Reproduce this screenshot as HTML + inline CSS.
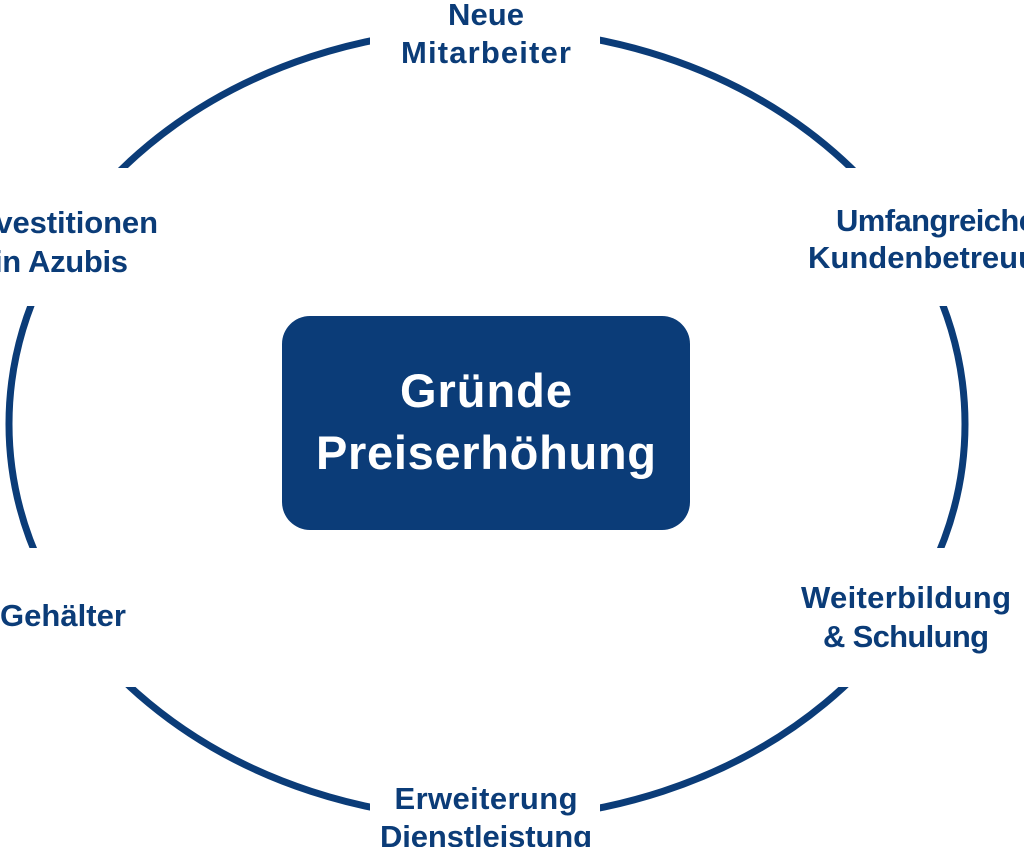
<!DOCTYPE html>
<html><head><meta charset="utf-8"><style>
html,body{margin:0;padding:0;background:#fff;width:1024px;height:847px;overflow:hidden}
svg text{font-family:"Liberation Sans",sans-serif;font-weight:bold;fill:#0b3c78}
</style></head><body>
<svg width="1024" height="847" viewBox="0 0 1024 847">
<ellipse cx="487" cy="424" rx="478" ry="395" fill="none" stroke="#0b3c78" stroke-width="7"/>
<g fill="#fff">
<rect x="370" y="0" width="230" height="75"/>
<rect x="370" y="770" width="230" height="77"/>
<rect x="0" y="168" width="200" height="138"/>
<rect x="0" y="548" width="200" height="139"/>
<rect x="790" y="168" width="234" height="138"/>
<rect x="790" y="548" width="234" height="139"/>
</g>
<rect x="282" y="316" width="408" height="214" rx="28" fill="#0b3c78"/>
<text x="486" y="407" text-anchor="middle" font-size="47" textLength="172" style="fill:#fff">Gründe</text>
<text x="486" y="469" text-anchor="middle" font-size="47" textLength="340" style="fill:#fff">Preiserhöhung</text>
<g font-size="31">
<text x="486" y="25" text-anchor="middle" textLength="76">Neue</text>
<text x="486" y="63" text-anchor="middle" textLength="170">Mitarbeiter</text>
<text x="158" y="233" text-anchor="end" textLength="190">Investitionen</text>
<text x="128" y="272" text-anchor="end" textLength="134">in Azubis</text>
<text x="126" y="626" text-anchor="end" textLength="126">Gehälter</text>
<text x="836" y="231" textLength="200">Umfangreiche</text>
<text x="808" y="268">Kundenbetreuung</text>
<text x="801" y="608" textLength="210">Weiterbildung</text>
<text x="823" y="647" textLength="166">&amp; Schulung</text>
<text x="486" y="809" text-anchor="middle" textLength="183">Erweiterung</text>
<text x="486" y="847" text-anchor="middle" textLength="212">Dienstleistung</text>
</g>
</svg>
</body></html>
